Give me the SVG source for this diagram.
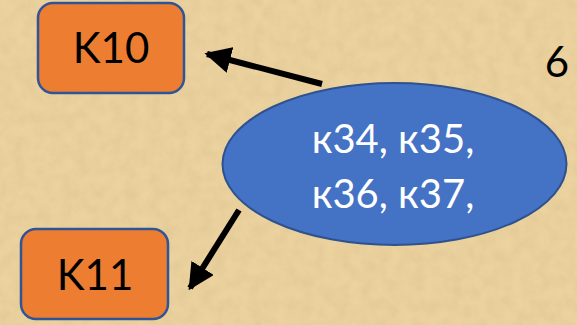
<svg xmlns="http://www.w3.org/2000/svg" width="577" height="325" viewBox="0 0 577 325">
<defs>
<style>
.box{fill:#ED7D31;stroke:#2F5597;stroke-width:2.5}
.lbl{font-family:Lato,"Liberation Sans",sans-serif;font-size:42px;fill:#000;text-anchor:middle}
.ell{fill:#4472C4;stroke:#2F528F;stroke-width:2}
.etxt{font-family:Lato,"Liberation Sans",sans-serif;font-size:40px;fill:#fff;text-anchor:middle}
.conn{stroke:#000;stroke-width:6;fill:none}
</style>
<filter id="tex" x="0" y="0" width="100%" height="100%">
<feTurbulence type="fractalNoise" baseFrequency="0.08" numOctaves="3" seed="4" result="n"/>
<feColorMatrix in="n" type="matrix" values="0 0 0 0 0.55  0 0 0 0 0.42  0 0 0 0 0.2  0 0 0 0.35 -0.1" result="c"/>
<feComposite in="c" in2="SourceGraphic" operator="in"/>
</filter>
<marker id="ah" viewBox="0 0 10 10" refX="9" refY="5" markerWidth="4.4" markerHeight="4.4" orient="auto" markerUnits="strokeWidth">
<path d="M0,0 L10,5 L0,10 Z" fill="#000"/>
</marker>
</defs>
<rect x="0" y="0" width="577" height="325" fill="#EBD29E"/>
<rect x="0" y="0" width="577" height="325" fill="#EBD29E" filter="url(#tex)"/>
<g id="connectors">
<line class="conn" x1="322" y1="84" x2="207" y2="54" marker-end="url(#ah)"/>
<line class="conn" x1="239" y1="210" x2="190" y2="288" marker-end="url(#ah)"/>
</g>
<g id="k10">
<rect class="box" x="38" y="3" width="146" height="90" rx="15"/>
<text class="lbl" x="111" y="63">K10</text>
</g>
<g id="k11">
<rect class="box" x="21" y="229" width="147" height="90" rx="15"/>
<text class="lbl" x="95" y="290">K11</text>
</g>
<g id="center">
<ellipse class="ell" cx="394.5" cy="164" rx="172" ry="81"/>
<text class="etxt" x="393" y="153">к34, к35,</text>
<text class="etxt" x="393" y="208">к36, к37,</text>
</g>
<g id="label6">
<text class="lbl" x="557" y="77">6</text>
</g>
</svg>
